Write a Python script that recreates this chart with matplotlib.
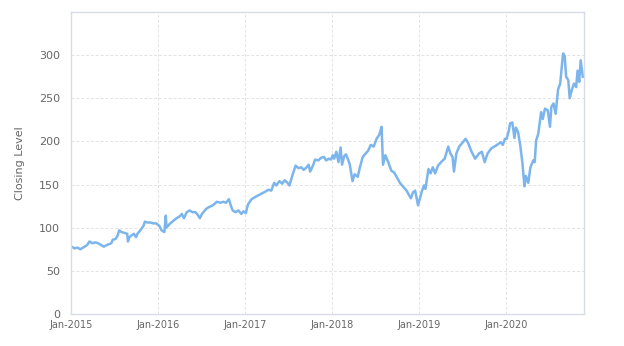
import pandas as pd
import matplotlib
matplotlib.use("Agg")
import matplotlib.pyplot as plt
import matplotlib.dates as mdates

# Closing levels
dates_2015 = ["2015-01-04", "2015-01-16", "2015-01-28", "2015-02-09", "2015-02-21", "2015-03-04",
              "2015-03-10", "2015-03-19", "2015-04-01", "2015-04-13", "2015-04-25", "2015-05-07",
              "2015-05-19", "2015-06-01", "2015-06-10", "2015-06-19", "2015-06-25", "2015-07-07",
              "2015-07-16", "2015-07-22", "2015-08-01", "2015-08-13", "2015-08-25", "2015-08-28",
              "2015-09-03", "2015-09-12", "2015-09-22", "2015-10-01", "2015-10-07", "2015-10-19",
              "2015-11-01", "2015-11-07", "2015-11-19", "2015-12-01", "2015-12-13", "2015-12-25"]
close_2015 = [78, 76, 77, 75, 77, 79, 80, 84, 82, 83, 82, 80, 78, 80, 81, 82, 86, 87,
              91, 97, 95, 94, 93, 84, 89, 91, 93, 89, 93, 97, 102, 107, 106, 106, 105, 105]

dates_2016 = ["2016-01-07", "2016-01-16", "2016-01-28", "2016-02-03", "2016-02-06", "2016-02-18",
              "2016-03-01", "2016-03-19", "2016-04-01", "2016-04-10", "2016-04-19", "2016-05-01",
              "2016-05-13", "2016-05-25", "2016-06-06", "2016-06-16", "2016-06-25", "2016-07-04",
              "2016-07-22", "2016-08-03", "2016-08-19", "2016-09-04", "2016-09-19", "2016-10-01",
              "2016-10-13", "2016-10-25", "2016-11-04", "2016-11-10", "2016-11-22", "2016-12-04",
              "2016-12-16", "2016-12-25"]
close_2016 = [102, 97, 95, 114, 100, 104, 107, 111, 113, 116, 111, 118, 120, 118, 118, 115,
              111, 116, 122, 124, 126, 130, 129, 130, 129, 133, 124, 120, 118, 120, 116, 119]

dates_2017 = ["2017-01-04", "2017-01-13", "2017-01-28", "2017-02-15", "2017-03-01", "2017-03-16",
              "2017-03-28", "2017-04-09", "2017-04-21", "2017-05-03", "2017-05-12", "2017-05-25",
              "2017-06-06", "2017-06-16", "2017-06-28", "2017-07-06", "2017-07-19", "2017-08-01",
              "2017-08-13", "2017-08-25", "2017-09-04", "2017-09-16", "2017-09-25", "2017-10-01",
              "2017-10-13", "2017-10-22", "2017-11-04", "2017-11-16", "2017-11-28", "2017-12-07",
              "2017-12-19", "2017-12-28"]
close_2017 = [117, 127, 133, 136, 138, 140, 142, 144, 143, 152, 149, 154, 151, 155, 152, 149,
              161, 172, 169, 170, 167, 170, 173, 165, 172, 179, 178, 181, 182, 178, 180, 179]

dates_2018 = ["2018-01-04", "2018-01-10", "2018-01-19", "2018-01-28", "2018-02-06", "2018-02-12",
              "2018-02-21", "2018-03-01", "2018-03-16", "2018-03-28", "2018-04-06", "2018-04-19",
              "2018-04-28", "2018-05-10", "2018-05-22", "2018-06-01", "2018-06-13", "2018-06-25",
              "2018-07-07", "2018-07-19", "2018-07-28", "2018-08-03", "2018-08-13", "2018-08-25",
              "2018-09-07", "2018-09-19", "2018-10-01", "2018-10-13", "2018-10-25", "2018-11-10",
              "2018-11-28", "2018-12-07", "2018-12-16", "2018-12-28"]
close_2018 = [184, 180, 188, 176, 193, 173, 183, 185, 174, 154, 162, 159, 170, 182, 186, 189,
              196, 194, 203, 208, 217, 173, 184, 176, 166, 164, 158, 152, 148, 143, 134, 141,
              143, 126]

dates_2019 = ["2019-01-04", "2019-01-13", "2019-01-22", "2019-01-28", "2019-02-10", "2019-02-19",
              "2019-02-28", "2019-03-10", "2019-03-22", "2019-04-04", "2019-04-19", "2019-05-04",
              "2019-05-13", "2019-05-22", "2019-05-28", "2019-06-07", "2019-06-19", "2019-07-01",
              "2019-07-16", "2019-07-25", "2019-08-10", "2019-08-25", "2019-09-10", "2019-09-22",
              "2019-10-04", "2019-10-16", "2019-11-01", "2019-11-13", "2019-11-25", "2019-12-10",
              "2019-12-19", "2019-12-28"]
close_2019 = [133, 142, 149, 145, 168, 163, 170, 163, 172, 176, 180, 194, 186, 182, 165, 186,
              194, 198, 203, 199, 188, 180, 186, 188, 176, 186, 192, 194, 196, 199, 196, 203]

dates_2020 = ["2020-01-04", "2020-01-13", "2020-01-19", "2020-01-28", "2020-02-06", "2020-02-12",
              "2020-02-21", "2020-03-01", "2020-03-10", "2020-03-19", "2020-03-25", "2020-04-04",
              "2020-04-13", "2020-04-25", "2020-05-01", "2020-05-07", "2020-05-16", "2020-05-28",
              "2020-06-04", "2020-06-13", "2020-06-25", "2020-07-04", "2020-07-10", "2020-07-19",
              "2020-07-28", "2020-08-07", "2020-08-16", "2020-08-28", "2020-09-04", "2020-09-10",
              "2020-09-19", "2020-09-25", "2020-10-04", "2020-10-13", "2020-10-22", "2020-10-28",
              "2020-11-04", "2020-11-10", "2020-11-19"]
close_2020 = [203, 212, 221, 222, 204, 216, 211, 196, 176, 148, 160, 152, 170, 178, 176, 201,
              209, 234, 226, 238, 236, 217, 240, 244, 232, 260, 267, 302, 299, 275, 271, 250,
              260, 267, 263, 282, 269, 294, 275]

year_ticks = ["2015-01-01", "2016-01-01", "2017-01-01", "2018-01-01", "2019-01-01", "2020-01-01"]

dates = pd.to_datetime(dates_2015 + dates_2016 + dates_2017 + dates_2018 + dates_2019 + dates_2020)
close = close_2015 + close_2016 + close_2017 + close_2018 + close_2019 + close_2020

fig = plt.figure(figsize=(6.24, 3.46), dpi=100)
ax = fig.add_axes([0.1138, 0.0925, 0.8221, 0.8728])

ax.plot(dates, close, color="#7cb5ec", linewidth=1.8, solid_joinstyle="round")

ax.set_xlim(pd.Timestamp("2015-01-01"), pd.Timestamp("2020-11-24"))
ax.set_ylim(0, 350)
ax.set_yticks(range(0, 301, 50))
ax.set_xticks(pd.to_datetime(year_ticks))
ax.xaxis.set_major_formatter(mdates.DateFormatter("Jan-%Y"))

ax.grid(True, color="#e3e3e3", linestyle=(0, (3, 2)), linewidth=0.7)
ax.set_axisbelow(True)
for s in ax.spines.values():
    s.set_color("#d8dce6")
    s.set_linewidth(1.0)

ax.tick_params(axis="both", length=0, colors="#666666")
ax.tick_params(axis="y", labelsize=8, pad=8)
ax.tick_params(axis="x", labelsize=7, pad=4)
ax.set_ylabel("Closing Level", fontsize=8, color="#666666", labelpad=10)

fig.savefig("out.png", dpi=100)
